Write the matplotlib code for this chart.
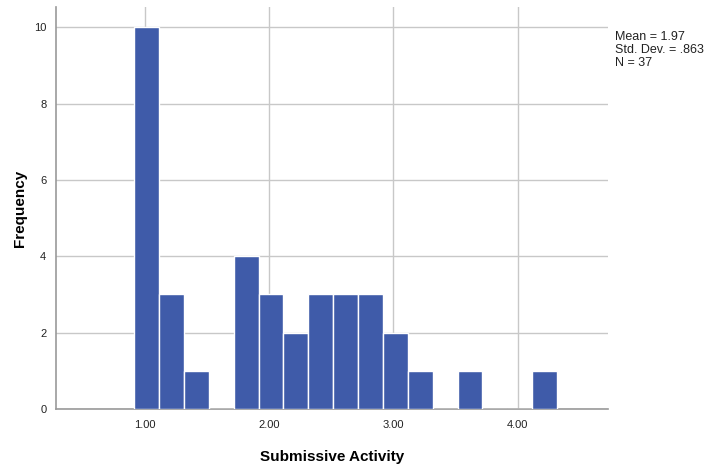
import numpy as np
import matplotlib
matplotlib.use("Agg")
import matplotlib.pyplot as plt

# histogram counts (bin width 0.2)
bin_starts = [0.917 + 0.2 * i for i in range(17)]
counts = [10, 3, 1, 0, 4, 3, 2, 3, 3, 3, 2, 1, 0, 1, 0, 0, 1]
x_ticks = [1, 2, 3, 4]
x_tick_labels = ["1.00", "2.00", "3.00", "4.00"]
y_ticks = [0, 2, 4, 6, 8, 10]
stats_text = "Mean = 1.97\nStd. Dev. = .863\nN = 37"

plt.rcParams['font.family'] = ['Liberation Sans', 'DejaVu Sans']

fig = plt.figure(figsize=(7.21, 4.65), dpi=100)
ax = fig.add_axes([0.0777, 0.1204, 0.843 - 0.0777, 0.985 - 0.1204])

ax.bar(bin_starts, counts, width=0.2, align='edge', color='#3f5ba9',
       edgecolor='white', linewidth=1.0, zorder=3)

ax.set_xlim(0.288, 4.725)
ax.set_ylim(0, 10.53)
ax.set_xticks(x_ticks)
ax.set_xticklabels(x_tick_labels)
ax.set_yticks(y_ticks)
ax.tick_params(length=0, labelsize=8, colors='#222222', pad=8)
ax.tick_params(axis='y', pad=7)

ax.grid(True, color='#c8c8c8', linewidth=1.0, zorder=0)
for s in ['top', 'right']:
    ax.spines[s].set_visible(False)
for s in ['left', 'bottom']:
    ax.spines[s].set_color('#999999')
    ax.spines[s].set_linewidth(1.2)

ax.set_xlabel("Submissive Activity", fontsize=11, fontweight='bold', labelpad=14)
ax.set_ylabel("Frequency", fontsize=11, fontweight='bold', labelpad=5)

fig.text(615 / 721, 1 - 31 / 465, stats_text, fontsize=9, va='top', ha='left',
         linespacing=1.1, color='#222222')

fig.savefig("out.png", dpi=100)
